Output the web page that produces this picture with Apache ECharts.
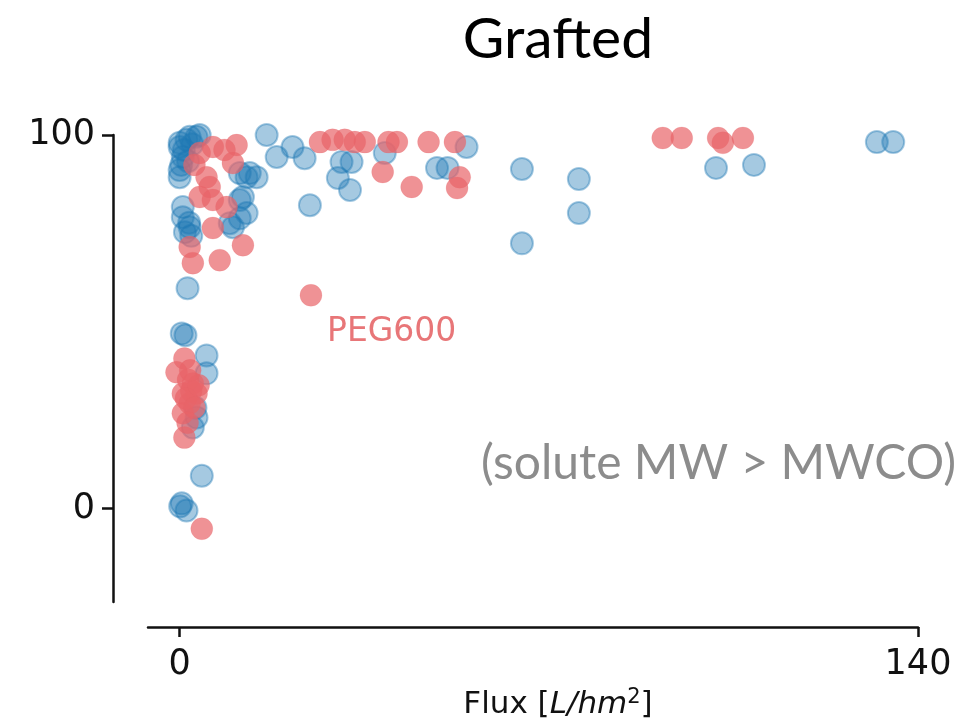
<!DOCTYPE html>
<html>
<head>
<meta charset="utf-8">
<script src="https://cdn.jsdelivr.net/npm/echarts@6/dist/echarts.min.js"></script>
<style>html,body{margin:0;padding:0;background:#fff;}#c{width:974px;height:720px;}</style>
</head>
<body>
<div id="c"></div>
<script>
// Blue series (Flux, Rejection)
var blueX = [132.2,135.3,101.7,108.9,64.9,64.9,75.7,75.7,54.4,48.8,50.8,38.9,30.7,32.6,30.0,32.3,24.7,16.5,18.4,21.4,23.7,12.0,12.7,14.6,1.3,3.2,0,0,0.6,1.9,3.8,0,0,11.4,13.3,0.6,0.6,1.9,1.0,11.4,12.7,11.4,10.1,9.5,1.5,0.4,1.1,5.1,5.1,3.2,2.5,4.2,0.4,1.3,0.8,2.4,1.6,0.3,1.8,2.2,3.0,0.1];
var blueY = [98.1,98.1,91.2,92.0,90.9,71.0,88.2,79.1,96.8,91.2,91.2,95.2,92.8,92.8,88.5,85.3,81.2,100.0,94.1,96.8,93.8,83.4,88.7,88.7,98.7,99.5,97.9,96.8,94.1,99.5,100.0,90.6,88.7,89.8,89.8,80.7,78.0,75.3,74.0,82.6,79.1,77.7,75.3,76.4,59.0,46.9,46.4,41.0,36.2,24.4,21.7,8.8,1.4,-0.5,96.0,97.5,93.0,92.0,76.5,73.0,27.0,0.6];
// Red series (Flux, Rejection)
var redX = [91.6,95.2,102.1,103.0,106.8,52.2,53.1,52.6,47.2,41.2,39.6,44.0,38.5,35.1,33.2,31.3,29.0,26.6,24.9,3.8,6.3,10.8,10.1,5.1,5.7,3.8,6.3,8.9,6.3,1.9,2.5,7.6,12.0,0.9,-0.6,2.5,0.6,1.9,0.6,0.9,3.2,4.2,2.8,8.5,1.6,2.2,1.2,2.8,1.5,3.6,2.0];
var redY = [99.2,99.2,99.2,97.9,99.2,98.1,88.7,85.8,98.1,98.1,98.1,86.1,90.1,98.1,98.1,98.7,98.7,98.1,57.1,95.2,96.8,97.3,92.5,88.7,86.1,83.4,82.6,80.7,75.1,70.0,65.7,66.5,70.5,40.2,36.5,33.5,30.8,28.2,25.5,19.0,30.8,-5.4,92.0,96.0,34.5,31.5,29.5,27.0,23.0,33.0,37.0];
var xTicks = [0, 140];
var yTicks = [0, 100];

function zip(a, b) { return a.map(function (v, i) { return [v, b[i]]; }); }

var chart = echarts.init(document.getElementById('c'), null, {renderer: 'canvas'});
var axisFont = 'DejaVu Sans';
chart.setOption({
  animation: false,
  backgroundColor: '#ffffff',
  title: {
    text: 'Grafted', left: 553, top: 6, textAlign: 'center',
    textStyle: {fontFamily: 'Lato', fontSize: 57, fontWeight: 'normal', color: '#000'}
  },
  grid: {left: 148, right: 56, top: 135, bottom: 118, containLabel: false, outerBoundsMode: 'none'},
  xAxis: {
    type: 'value', min: -6, max: 140, offset: 25,
    splitLine: {show: false},
    axisLine: {show: true, onZero: false, lineStyle: {color: '#111', width: 2.5}},
    axisTick: {show: true, length: 10, customValues: xTicks, lineStyle: {color: '#111', width: 2.5}},
    axisLabel: {customValues: xTicks, margin: 20, fontFamily: axisFont, fontSize: 35, color: '#111'},
    name: '{n|Flux [}{i|L/hm}{s|2}{n|]}',
    nameLocation: 'middle', nameGap: 50,
    nameTextStyle: {
      padding: [0, 0, 0, 50],
      rich: {
        n: {fontFamily: axisFont, fontSize: 31, color: '#111'},
        i: {fontFamily: axisFont, fontSize: 31, fontStyle: 'italic', color: '#111'},
        s: {fontFamily: axisFont, fontSize: 21, color: '#111', verticalAlign: 'top', padding: [0, 0, 16, 0]}
      }
    }
  },
  yAxis: {
    type: 'value', min: -25, max: 100, offset: 35,
    splitLine: {show: false},
    axisLine: {show: true, onZero: false, lineStyle: {color: '#111', width: 2.5}},
    axisTick: {show: true, length: 11, customValues: yTicks, lineStyle: {color: '#111', width: 2.5}},
    axisLabel: {customValues: yTicks, margin: 18, fontFamily: axisFont, fontSize: 35, color: '#111'}
  },
  series: [
    {
      type: 'scatter', data: zip(blueX, blueY), symbolSize: 22,
      itemStyle: {color: 'rgba(31,119,180,0.5)', borderColor: 'rgba(31,119,180,0.5)', borderWidth: 2}
    },
    {
      type: 'scatter', data: zip(redX, redY), symbolSize: 22,
      itemStyle: {color: 'rgba(232,100,104,0.88)', borderColor: 'rgba(232,100,104,0.2)', borderWidth: 1}
    }
  ],
  graphic: [
    {type: 'text', left: 327, top: 316, style: {text: 'PEG600', fontFamily: axisFont, fontSize: 33, fill: 'rgb(232,118,120)'}},
    {type: 'text', right: 18, top: 440, style: {text: '(solute MW > MWCO)', fontFamily: 'Lato', fontSize: 48, fill: '#8c8c8c'}}
  ]
});
</script>
</body>
</html>
